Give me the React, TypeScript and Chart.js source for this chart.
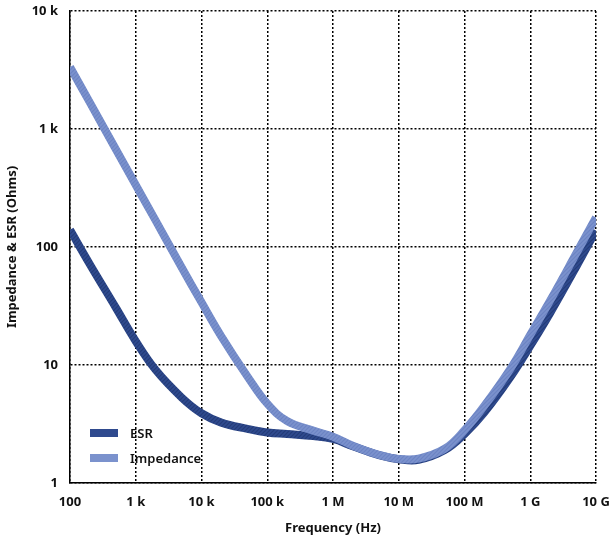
import React, { useEffect, useRef } from "react";
import { Chart, registerables } from "chart.js";

Chart.register(...registerables);

const frequencies = [100, 200, 500, 1e3, 2e3, 5e3, 1e4, 2e4, 5e4, 1e5, 2e5, 5e5, 1e6, 2e6, 5e6, 1e7, 2e7, 5e7, 1e8, 2e8, 5e8, 1e9, 2e9, 5e9, 1e10];
const impedance = [3350, 1680, 670, 335, 168, 67, 34, 17.5, 8.0, 4.7, 3.35, 2.78, 2.47, 2.07, 1.73, 1.6, 1.61, 1.95, 2.8, 4.5, 9.3, 18, 35, 88, 178];
const esr = [140, 71.5, 30.5, 15.9, 9.1, 5.3, 3.9, 3.25, 2.88, 2.68, 2.6, 2.5, 2.36, 2.05, 1.72, 1.59, 1.57, 1.9, 2.6, 3.95, 7.9, 14.5, 27.5, 68, 138];
const xTicks = [100, 1e3, 1e4, 1e5, 1e6, 1e7, 1e8, 1e9, 1e10];
const xTickLabels = ["100", "1 k", "10 k", "100 k", "1 M", "10 M", "100 M", "1 G", "10 G"];
const yTicks = [1, 10, 100, 1000, 10000];
const yTickLabels = ["1", "10", "100", "1 k", "10 k"];

const ESR_COLOR = "#2f4a8e";
const ESR_STRIPE = "#243c78";
const IMP_COLOR = "#7b92cd";
const IMP_STRIPE = "#6c84c3";
const FONT = "'Noto Sans', 'Open Sans', sans-serif";

function makePattern(base: string, stripe: string): CanvasPattern | string {
  const c = document.createElement("canvas");
  c.width = 4;
  c.height = 4;
  const g = c.getContext("2d");
  if (!g) return base;
  g.fillStyle = base;
  g.fillRect(0, 0, 4, 4);
  g.strokeStyle = stripe;
  g.lineWidth = 1.2;
  g.beginPath();
  g.moveTo(0, 4);
  g.lineTo(4, 0);
  g.moveTo(-1, 1);
  g.lineTo(1, -1);
  g.moveTo(3, 5);
  g.lineTo(5, 3);
  g.stroke();
  return g.createPattern(c, "repeat") || base;
}

const legendColors = [ESR_COLOR, IMP_COLOR];

const legendPlugin = {
  id: "innerLegend",
  afterDatasetsDraw(chart: any) {
    const { ctx, chartArea } = chart;
    ctx.save();
    chart.data.datasets.forEach((ds: any, i: number) => {
      const x = chartArea.left + 20;
      const y = 433 + i * 25;
      ctx.fillStyle = legendColors[i];
      ctx.fillRect(x, y - 4, 28, 8);
      ctx.fillStyle = "#111";
      ctx.font = `600 13px ${FONT}`;
      ctx.textBaseline = "middle";
      ctx.textAlign = "left";
      ctx.fillText(ds.label, x + 40, y + 1);
    });
    ctx.restore();
  },
};

export default function App() {
  const ref = useRef<HTMLCanvasElement>(null);
  useEffect(() => {
    if (!ref.current) return;
    const gridOpts = {
      color: "#000",
      lineWidth: 1.5,
      drawTicks: false,
    };
    const chart = new Chart(ref.current, {
      type: "line",
      data: {
        datasets: [
          {
            label: "ESR",
            data: frequencies.map((f, i) => ({ x: f, y: esr[i] })),
            borderColor: makePattern(ESR_COLOR, ESR_STRIPE),
            backgroundColor: ESR_COLOR,
            borderWidth: 8,
            pointRadius: 0,
            tension: 0.4,
            order: 2,
          },
          {
            label: "Impedance",
            data: frequencies.map((f, i) => ({ x: f, y: impedance[i] })),
            borderColor: makePattern(IMP_COLOR, IMP_STRIPE),
            backgroundColor: IMP_COLOR,
            borderWidth: 8,
            pointRadius: 0,
            tension: 0.4,
            order: 1,
          },
        ],
      },
      options: {
        animation: false,
        responsive: true,
        maintainAspectRatio: false,
        layout: { padding: { top: 11, right: 15, left: 0, bottom: 0 } },
        plugins: { legend: { display: false }, tooltip: { enabled: false } },
        scales: {
          x: {
            type: "logarithmic",
            min: 100,
            max: 1e10,
            afterBuildTicks: (s: any) => {
              s.ticks = xTicks.map((v) => ({ value: v }));
            },
            afterFit: (s: any) => {
              s.height = 57;
              s.paddingLeft = 0;
              s.paddingRight = 0;
            },
            ticks: {
              autoSkip: false,
              maxRotation: 0,
              padding: 11,
              color: "#111",
              font: { family: FONT, size: 13, weight: "bold" },
              callback: (v: any) => {
                const idx = xTicks.indexOf(Number(v));
                return idx >= 0 ? xTickLabels[idx] : "";
              },
            },
            grid: gridOpts,
            border: { display: true, color: "#000", width: 1.5, dash: [2, 2] },
            title: {
              display: true,
              text: "Frequency (Hz)",
              color: "#111",
              font: { family: FONT, size: 13, weight: "bold" },
              padding: { top: 3 },
            },
          },
          y: {
            type: "logarithmic",
            min: 1,
            max: 10000,
            afterBuildTicks: (s: any) => {
              s.ticks = yTicks.map((v) => ({ value: v }));
            },
            afterFit: (s: any) => {
              s.width = 70;
              s.paddingTop = 0;
              s.paddingBottom = 0;
            },
            ticks: {
              autoSkip: false,
              padding: 12,
              color: "#111",
              font: { family: FONT, size: 13, weight: "bold" },
              callback: (v: any) => {
                const idx = yTicks.indexOf(Number(v));
                return idx >= 0 ? yTickLabels[idx] : "";
              },
            },
            grid: gridOpts,
            border: { display: true, color: "#000", width: 1.5, dash: [2, 2] },
            title: {
              display: true,
              text: "Impedance & ESR (Ohms)",
              color: "#111",
              font: { family: FONT, size: 13, weight: "bold" },
              padding: { bottom: 2 },
            },
          },
        },
      },
      plugins: [legendPlugin],
    } as any);
    return () => chart.destroy();
  }, []);
  return (
    <div style={{ position: "fixed", left: 0, top: 0, width: 611, height: 540 }}>
      <canvas ref={ref} />
    </div>
  );
}
